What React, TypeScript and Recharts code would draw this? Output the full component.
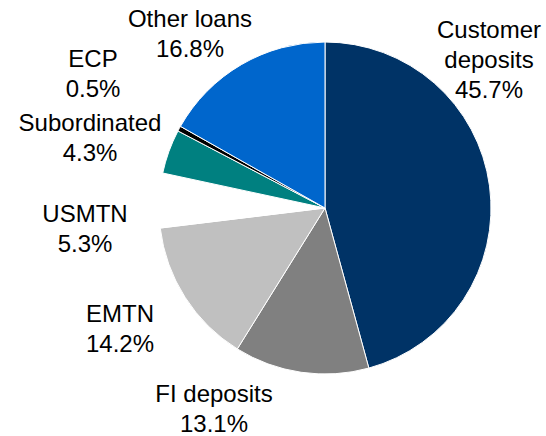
import { PieChart, Pie, Cell } from 'recharts';

const names = ['Customer deposits', 'FI deposits', 'EMTN', 'USMTN', 'Subordinated', 'ECP', 'Other loans'];
const shares = [45.7, 13.1, 14.2, 5.3, 4.3, 0.5, 16.8];
const COLORS = ['#003366', '#808080', '#C0C0C0', '#FFFFFF', '#008080', '#000000', '#0066CC'];

// label text lines (wrapped like the source chart)
const labelLines = [['Customer', 'deposits'], ['FI deposits'], ['EMTN'], ['USMTN'], ['Subordinated'], ['ECP'], ['Other loans']];
// label anchor offsets from the pie centre: [dx, first baseline dy]
const labelOffsets = [[164, -170], [-111, 194], [-205, 114], [-240, 14], [-235, -77], [-232, -141], [-135, -181]];

const data = names.map((name, i) => ({ name, value: shares[i] }));

function renderLabel(props: any) {
    const { cx, cy, index, value } = props;
    const [dx, dy] = labelOffsets[index];
    const lines = [...labelLines[index], `${value.toFixed(1)}%`];
    return (
        <text
            x={cx + dx}
            y={cy + dy}
            textAnchor="middle"
            fill="#000"
            fontSize={24}
            fontFamily="'Liberation Sans', Arial, sans-serif"
        >
            {lines.map((line, i) => (
                <tspan key={i} x={cx + dx} dy={i === 0 ? 0 : 30}>{line}</tspan>
            ))}
        </text>
    );
}

export default function App() {
    return (
        <div style={{ position: 'absolute', left: 0, top: 0, width: 546, height: 436, background: '#fff' }}>
            <PieChart width={546} height={436} margin={{ top: 0, right: 0, bottom: 0, left: 0 }}>
                <Pie
                    data={data}
                    dataKey="value"
                    cx={325}
                    cy={208}
                    outerRadius={166}
                    startAngle={90}
                    endAngle={-270}
                    stroke="#fff"
                    strokeWidth={1}
                    label={renderLabel}
                    labelLine={false}
                    isAnimationActive={false}
                >
                    {data.map((entry, index) => (
                        <Cell key={`cell-${index}`} fill={COLORS[index]} />
                    ))}
                </Pie>
            </PieChart>
        </div>
    );
}
